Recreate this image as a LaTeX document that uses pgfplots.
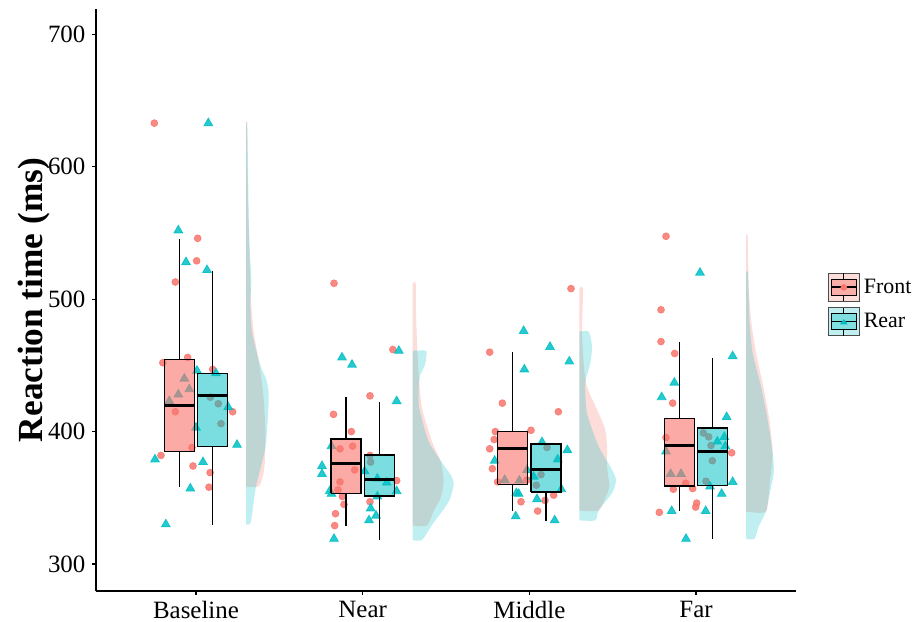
\documentclass[border=0pt]{standalone}
\usepackage{pgfplots}
\pgfplotsset{compat=1.18}
\usepackage{fontspec}
\setmainfont{Liberation Serif}

\definecolor{fpink}{HTML}{F8766D}
\definecolor{rteal}{HTML}{00BFC4}

\pgfplotsset{
  violinF/.style={draw=none, fill=fpink, fill opacity=0.25, smooth, tension=0.4, forget plot},
  violinR/.style={draw=none, fill=rteal, fill opacity=0.25, smooth, tension=0.4, forget plot},
  boxF/.style={draw=black, fill=fpink, fill opacity=0.62, line width=0.75pt, forget plot},
  boxR/.style={draw=black, fill=rteal, fill opacity=0.52, line width=0.75pt, forget plot},
}

\begin{document}
\begin{tikzpicture}
\useasboundingbox (-48bp,-15.5bp) rectangle (412bp,295.5bp);
\begin{axis}[
    scale only axis,
    width=350bp, height=291bp,
    xmin=0.4, xmax=4.6,
    ymin=279.6, ymax=719.2,
    clip marker paths=true,
    axis x line*=bottom, axis y line*=left,
    axis line style={-, line width=0.7pt},
    xtick={1,2,3,4},
    xticklabels={Baseline,Near,Middle,Far},
    ytick={300,400,500,600,700},
    tick align=outside,
    major tick length=1.8bp,
    tick style={black, line width=0.6pt},
    tick label style={font=\fontsize{12.5}{14}\selectfont},
    /pgf/number format/assume math mode=true,
    unbounded coords=jump,
    ylabel={Reaction time (ms)},
    y label style={at={(axis description cs:-0.0890,0.5)}, anchor=center,
      font=\fontsize{17.7}{20}\selectfont\bfseries},
    legend style={draw=none, fill=none, at={(1.0447,0.4923)}, anchor=west,
      inner sep=0pt, row sep=2.5bp, font=\fontsize{11}{13}\selectfont},
    legend cell align=left,
]

% half violins (flat side at category + 0.3)
\addplot[violinF] coordinates {(1.3,358.5) (1.376,358.5) (1.400,366) (1.412,375) (1.416,400) (1.406,425)
  (1.380,450.5) (1.346,475.6) (1.330,498) (1.326,513.5) (1.315,560) (1.309,600) (1.307,633) (1.3,633)};
\addplot[violinR] coordinates {(1.3,330) (1.324,330) (1.336,337) (1.360,358.5) (1.416,387.5)
  (1.432,412.7) (1.436,430) (1.420,440) (1.386,450) (1.336,475) (1.326,498) (1.332,513) (1.322,538.5)
  (1.316,563.7) (1.312,600) (1.307,632) (1.3,632)};

\addplot[violinF] coordinates {(2.3,329) (2.386,329) (2.426,340) (2.468,350) (2.486,362.3)
  (2.468,377.4) (2.416,392.5) (2.356,417.7) (2.336,443) (2.326,468) (2.320,490) (2.318,512) (2.3,512)};
\addplot[violinR] coordinates {(2.3,318.1) (2.356,318.1) (2.416,329.5) (2.516,347) (2.546,359.7)
  (2.530,367) (2.486,374.8) (2.396,392.5) (2.340,417.7) (2.336,432.8) (2.346,443) (2.370,449) (2.380,455) (2.380,461) (2.3,461)};

\addplot[violinF] coordinates {(3.3,340.3) (3.416,340.3) (3.456,350) (3.480,358.5) (3.466,373.6)
  (3.466,388.7) (3.456,401.3) (3.416,413.9) (3.346,434) (3.326,451.7) (3.316,476.8) (3.322,508) (3.3,508)};
\addplot[violinR] coordinates {(3.3,333) (3.396,333) (3.416,340.8) (3.496,353.5) (3.520,363.5)
  (3.486,373.6) (3.416,388.7) (3.346,413.9) (3.336,436.6) (3.366,451.7) (3.376,464.4) (3.356,475.5) (3.3,475.5)};

\addplot[violinF] coordinates {(4.3,339.6) (4.420,339.6) (4.440,358.5) (4.460,383.7) (4.440,408.9)
  (4.404,434) (4.360,459.3) (4.330,484.5) (4.316,509.7) (4.310,547.5) (4.3,547.5)};
\addplot[violinR] coordinates {(4.3,319) (4.350,319) (4.376,328.2) (4.420,339.6) (4.430,345.9)
  (4.466,368.6) (4.460,383.7) (4.430,408.9) (4.390,434) (4.340,459.3) (4.320,484.5) (4.312,519.8) (4.3,519.8)};

% jittered raw data: Front
\addplot[only marks, color=fpink, mark=*, mark size=1.7bp, mark options={solid, fill=fpink, draw=fpink}, opacity=0.85, forget plot]
coordinates {
  % Baseline
  (0.750,633) (1.010,546) (1.004,529) (0.876,513) (0.950,456) (0.801,452) (0.876,415) (1.220,415)
  (1.100,447) (0.976,388) (0.790,382) (0.982,374) (1.085,369) (1.078,358) (1.086,426) (1.134,421) (1.150,406)
  % Near
  (1.828,512) (2.181,462) (2.044,427) (1.825,413) (1.932,400) (1.864,387) (1.940,389) (1.952,371)
  (1.864,362) (1.852,356) (2.204,363) (1.878,351) (2.044,347) (1.888,345) (1.837,338) (1.832,329)
  (2.044,382) (2.048,377)
  % Middle
  (3.250,508) (2.762,460) (2.838,421.5) (3.174,415) (2.796,400) (3.010,401) (2.789,394) (2.762,387)
  (2.778,372) (2.810,362) (2.986,363.5) (2.950,347) (3.094,348) (3.146,352) (3.050,340) (3.106,388)
  (3.070,367.5) (3.042,359.5)
  % Far
  (3.820,547.5) (3.790,492) (3.790,468) (3.872,459) (3.860,421.5) (3.820,395.5) (4.214,384) (3.938,361)
  (3.864,356.5) (3.980,357) (4.004,346) (3.998,343) (3.780,339) (4.044,399) (4.076,396) (4.090,389.5)
  (4.098,378) (4.060,362.5)
};

% jittered raw data: Rear
\addplot[only marks, color=rteal, mark=triangle*, mark size=2.5bp, mark options={solid, fill=rteal, draw=rteal}, opacity=0.85, forget plot]
coordinates {
  % Baseline
  (1.074,633) (0.894,552) (0.940,528) (1.066,522) (1.006,446) (1.120,444) (0.930,440) (0.960,432)
  (0.894,428) (0.840,423) (1.193,418.5) (1.000,403) (1.246,390) (0.754,379) (1.042,377) (0.966,357) (0.819,330)
  % Near
  (2.217,461) (1.876,456) (1.936,450.5) (2.204,423) (1.813,389) (1.756,374) (1.756,368) (2.012,370)
  (2.088,364.5) (2.144,361.5) (1.802,355) (2.204,355) (2.088,351) (2.048,342) (2.080,336.5) (2.038,333)
  (1.828,319) (1.813,353)
  % Middle
  (2.966,476) (3.124,464) (3.240,453) (2.970,447) (3.228,386) (3.170,379) (3.076,392) (2.792,378)
  (2.852,363.5) (2.940,363) (2.986,371) (3.026,366) (3.192,356.5) (2.922,353.5) (2.936,353) (3.046,349)
  (2.918,336) (3.152,333)
  % Far
  (4.024,520) (4.220,457) (3.870,437) (3.794,426) (4.184,411) (4.170,396) (4.128,392.5) (4.176,389)
  (3.820,385) (3.848,368) (3.910,368) (4.220,362) (4.084,358.5) (4.154,353) (3.854,340) (4.058,340) (3.940,319)
};

% whiskers (lower, upper) for each box
\addplot[black, line width=0.75pt, forget plot] coordinates {
  (0.9,358.5) (0.9,385) (0.9,nan) (0.9,454.3) (0.9,545.5) (0.9,nan)
  (1.1,329.5) (1.1,388.7) (1.1,nan) (1.1,443.7) (1.1,521) (1.1,nan)
  (1.9,328.7) (1.9,353.4) (1.9,nan) (1.9,394.3) (1.9,426.5) (1.9,nan)
  (2.1,318.1) (2.1,351.4) (2.1,nan) (2.1,382.4) (2.1,422) (2.1,nan)
  (2.9,340.3) (2.9,360.2) (2.9,nan) (2.9,400) (2.9,459.8) (2.9,nan)
  (3.1,332.8) (3.1,354.2) (3.1,nan)
  (3.9,340) (3.9,359) (3.9,nan) (3.9,409.9) (3.9,467.4) (3.9,nan)
  (4.1,318.9) (4.1,359.2) (4.1,nan) (4.1,402.6) (4.1,455.5)
};

% boxes: lower quartile to upper quartile, width 0.18
\addplot[boxF] coordinates {(0.81,385) (0.99,385) (0.99,454.3) (0.81,454.3) (0.81,385)};
\addplot[boxR] coordinates {(1.01,388.7) (1.19,388.7) (1.19,443.7) (1.01,443.7) (1.01,388.7)};
\addplot[boxF] coordinates {(1.81,353.4) (1.99,353.4) (1.99,394.3) (1.81,394.3) (1.81,353.4)};
\addplot[boxR] coordinates {(2.01,351.4) (2.19,351.4) (2.19,382.4) (2.01,382.4) (2.01,351.4)};
\addplot[boxF] coordinates {(2.81,360.2) (2.99,360.2) (2.99,400) (2.81,400) (2.81,360.2)};
\addplot[boxR] coordinates {(3.01,354.2) (3.19,354.2) (3.19,390.5) (3.01,390.5) (3.01,354.2)};
\addplot[boxF] coordinates {(3.81,359) (3.99,359) (3.99,409.9) (3.81,409.9) (3.81,359)};
\addplot[boxR] coordinates {(4.01,359.2) (4.19,359.2) (4.19,402.6) (4.01,402.6) (4.01,359.2)};

% medians
\addplot[black, line width=1.5pt, forget plot] coordinates {
  (0.81,419.5) (0.99,419.5) (0.9,nan) (1.01,427.3) (1.19,427.3) (1.1,nan)
  (1.81,375.6) (1.99,375.6) (1.9,nan) (2.01,363.5) (2.19,363.5) (2.1,nan)
  (2.81,387) (2.99,387) (2.9,nan) (3.01,371.1) (3.19,371.1) (3.1,nan)
  (3.81,389.2) (3.99,389.2) (3.9,nan) (4.01,385.1) (4.19,385.1)
};

% legend keys
\addlegendimage{legend image code/.code={
  \draw[draw=black!70, fill=fpink!25, line width=0.6pt] (0bp,-7bp) rectangle (15.5bp,7bp);
  \draw[black, line width=0.5pt] (7.75bp,-7bp) -- (7.75bp,-4bp) (7.75bp,4bp) -- (7.75bp,7bp);
  \draw[black, fill=fpink!60, line width=0.5pt] (1.5bp,-4bp) rectangle (14bp,4bp);
  \draw[black, line width=0.9pt] (1.5bp,0bp) -- (14bp,0bp);
  \fill[fpink] (7.75bp,0bp) circle (1.4bp);
}}
\addlegendentry{Front}
\addlegendimage{legend image code/.code={
  \draw[draw=black!70, fill=rteal!25, line width=0.6pt] (0bp,-7bp) rectangle (15.5bp,7bp);
  \draw[black, line width=0.5pt] (7.75bp,-7bp) -- (7.75bp,-4bp) (7.75bp,4bp) -- (7.75bp,7bp);
  \draw[black, fill=rteal!50, line width=0.5pt] (1.5bp,-4bp) rectangle (14bp,4bp);
  \draw[black, line width=0.9pt] (1.5bp,0bp) -- (14bp,0bp);
  \fill[rteal] (7.75bp,0.9bp) -- (6.2bp,-1.2bp) -- (9.3bp,-1.2bp) -- cycle;
}}
\addlegendentry{Rear}
\end{axis}
\end{tikzpicture}
\end{document}
